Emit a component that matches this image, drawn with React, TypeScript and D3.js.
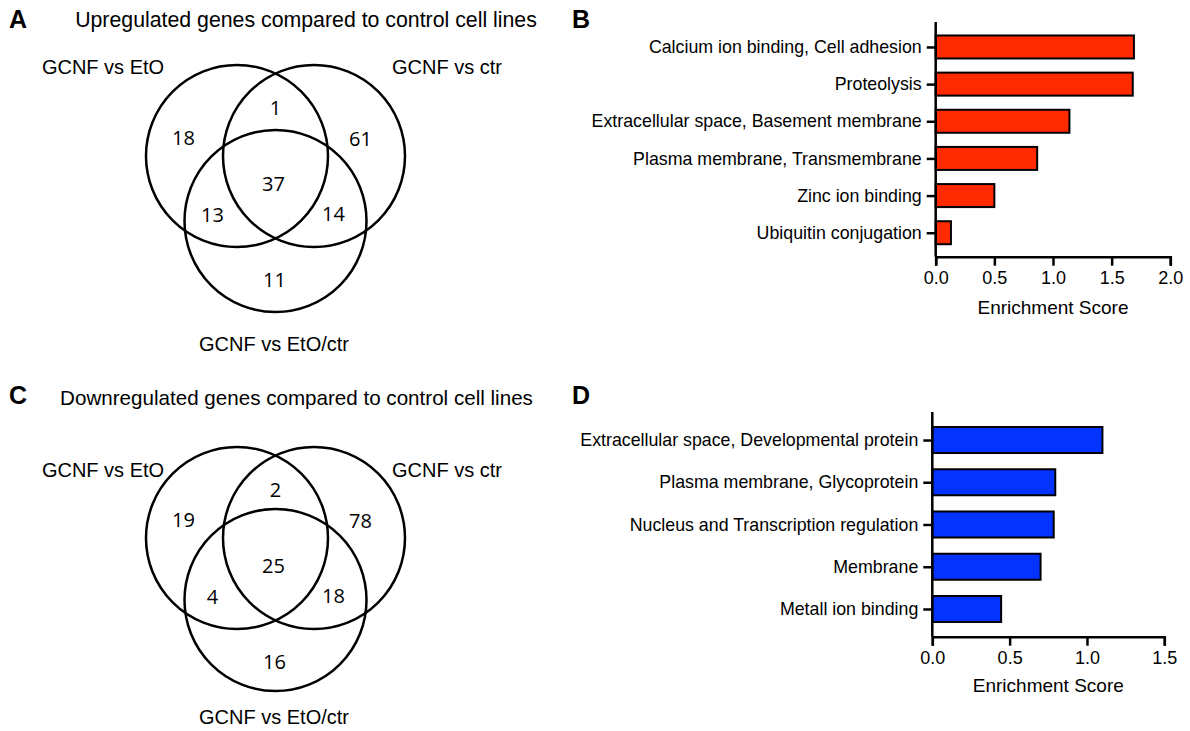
import React from "react";
import * as d3 from "d3";

// Venn counts, region order:
// only EtO, EtO&ctr, only ctr, EtO&EtO/ctr, all three, ctr&EtO/ctr, only EtO/ctr
const upCounts = [18, 1, 61, 13, 37, 14, 11];
const downCounts = [19, 2, 78, 4, 25, 18, 16];
const setNames = ["GCNF vs EtO", "GCNF vs ctr", "GCNF vs EtO/ctr"];

const upTerms = [
  "Calcium ion binding, Cell adhesion",
  "Proteolysis",
  "Extracellular space, Basement membrane",
  "Plasma membrane, Transmembrane",
  "Zinc ion binding",
  "Ubiquitin conjugation",
];
const upScores = [1.69, 1.68, 1.14, 0.865, 0.5, 0.13];
const upTicks = [0, 0.5, 1.0, 1.5, 2.0];

const downTerms = [
  "Extracellular space, Developmental protein",
  "Plasma membrane, Glycoprotein",
  "Nucleus and Transcription regulation",
  "Membrane",
  "Metall ion binding",
];
const downScores = [1.1, 0.795, 0.785, 0.7, 0.445];
const downTicks = [0, 0.5, 1.0, 1.5];

const SANS = "'Liberation Sans', Arial, sans-serif";
const NUMFONT = "'Open Sans', 'Noto Sans', sans-serif";

export default function App() {
  const svgRef = React.useRef(null);

  React.useEffect(() => {
    const svg = d3.select(svgRef.current);
    svg.selectAll("*").remove();

    // panel letters
    const letters = [["A", 9, 19], ["B", 572, 19], ["C", 9, 395], ["D", 572, 395]];
    svg.selectAll("text.letter").data(letters).enter().append("text")
      .attr("class", "letter")
      .attr("x", (d) => d[1]).attr("y", (d) => d[2])
      .attr("dominant-baseline", "central")
      .attr("font-family", SANS).attr("font-weight", "bold").attr("font-size", 25)
      .text((d) => d[0]);

    // ---------- venn diagrams ----------
    function venn(title, counts, cx, cy, dy, titleX, titleY, titleSize, topLabelY, botLabelY) {
      const g = svg.append("g");
      const r = 91;
      const sep = 38.5;
      g.append("text").attr("x", titleX).attr("y", titleY)
        .attr("text-anchor", "middle").attr("dominant-baseline", "central")
        .attr("font-family", SANS).attr("font-size", titleSize).text(title);

      const circles = [[cx - sep, cy], [cx + sep, cy], [cx, cy + dy]];
      g.selectAll("circle").data(circles).enter().append("circle")
        .attr("cx", (d) => d[0]).attr("cy", (d) => d[1]).attr("r", r)
        .attr("fill", "none").attr("stroke", "#000").attr("stroke-width", 2.5);

      const offs = [[-92, -19], [0, -49], [85, -18], [-63, 58], [-2, 27], [58, 57], [-1, 123]];
      g.selectAll("text.num").data(counts).enter().append("text")
        .attr("class", "num")
        .attr("x", (d, i) => cx + offs[i][0])
        .attr("y", (d, i) => cy + offs[i][1])
        .attr("text-anchor", "middle").attr("dominant-baseline", "central")
        .attr("font-family", NUMFONT).attr("font-size", 20)
        .text((d) => d);

      const labelPos = [[103, topLabelY], [447, topLabelY], [274, botLabelY]];
      g.selectAll("text.set").data(setNames).enter().append("text")
        .attr("class", "set")
        .attr("x", (d, i) => labelPos[i][0]).attr("y", (d, i) => labelPos[i][1])
        .attr("text-anchor", "middle").attr("dominant-baseline", "central")
        .attr("font-family", SANS).attr("font-size", 20)
        .text((d) => d);
    }

    venn("Upregulated genes compared to control cell lines", upCounts, 275.5, 156, 65, 306, 20, 21.3, 67, 344);
    venn("Downregulated genes compared to control cell lines", downCounts, 275.5, 538, 62, 296.5, 397, 20.6, 470, 717);

    // ---------- bar charts ----------
    function bars(terms, scores, ticks, color, x0, x1, yTop, yBot, bandTop, bandBot, barH, titleY) {
      const g = svg.append("g");
      const x = d3.scaleLinear().domain([ticks[0], ticks[ticks.length - 1]]).range([x0, x1]);
      const y = d3.scalePoint().domain(terms).range([bandTop, bandBot]).padding(0.5);

      g.selectAll("rect").data(scores).enter().append("rect")
        .attr("x", x(0))
        .attr("y", (d, i) => y(terms[i]) - barH / 2)
        .attr("width", (d) => x(d) - x(0))
        .attr("height", barH)
        .attr("fill", color).attr("stroke", "#000").attr("stroke-width", 2);

      const xAxis = g.append("g").attr("transform", `translate(0,${yBot})`)
        .call(d3.axisBottom(x).tickValues(ticks).tickSize(9).tickPadding(6).tickFormat(d3.format(".1f")));
      xAxis.select(".domain").attr("stroke-width", 2.5);
      xAxis.selectAll("line").attr("stroke-width", 2.5);
      xAxis.selectAll("text").attr("font-family", SANS).attr("font-size", 18).attr("fill", "#000");

      const yAxis = g.append("g").attr("transform", `translate(${x0},0)`)
        .call(d3.axisLeft(y).tickSize(9).tickPadding(5));
      yAxis.select(".domain").attr("d", `M0,${yTop}V${yBot}`).attr("stroke-width", 2.5);
      yAxis.selectAll("line").attr("stroke-width", 2.5);
      yAxis.selectAll("text").attr("font-family", SANS).attr("font-size", 17.8).attr("fill", "#000");

      g.append("text").attr("x", (x0 + x1) / 2).attr("y", titleY)
        .attr("text-anchor", "middle").attr("dominant-baseline", "central")
        .attr("font-family", SANS).attr("font-size", 19).text("Enrichment Score");
    }

    bars(upTerms, upScores, upTicks, "#ff2a00", 935.7, 1170.3, 22, 256.7, 28.4, 251.3, 23, 307);
    bars(downTerms, downScores, downTicks, "#0433ff", 932.3, 1164.3, 412, 636.7, 418.9, 630.1, 26, 685);
  }, []);

  return (
    <svg ref={svgRef} width={1190} height={731}
      style={{ position: "absolute", left: 0, top: 0, background: "#fff" }} />
  );
}
